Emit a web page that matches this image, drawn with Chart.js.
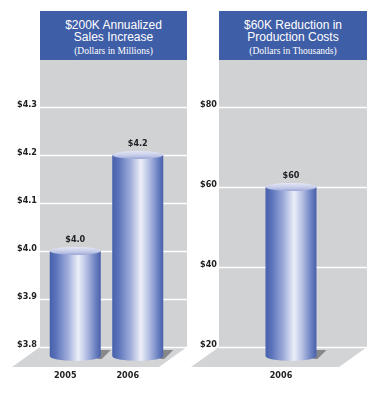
<!DOCTYPE html>
<html><head><meta charset="utf-8">
<script src="https://cdn.jsdelivr.net/npm/chart.js@4"></script>
<style>
html,body{margin:0;padding:0;background:#fff}
body{width:378px;height:401px;overflow:hidden;position:relative}
.cw{position:absolute;top:0;height:401px}
.tb{position:absolute;top:11px;height:49px;background:#3f5ea8;color:#fff;text-align:center}
.l1{position:absolute;left:0;right:0;font-family:'Liberation Sans',Arial,sans-serif;font-size:12px;line-height:12px}
.l3{position:absolute;left:0;right:0;font-family:'Liberation Serif','Times New Roman',serif;font-size:9.5px;line-height:10px}
</style></head>
<body>
<div class="cw" style="left:0;width:190px"><canvas id="c1" width="190" height="401"></canvas></div>
<div class="cw" style="left:190px;width:188px"><canvas id="c2" width="188" height="401"></canvas></div>
<div class="tb" style="left:40px;width:147px">
  <div class="l1" style="top:8px">$200K Annualized</div>
  <div class="l1" style="top:20px">Sales Increase</div>
  <div class="l3" style="top:35px">(Dollars in Millions)</div>
</div>
<div class="tb" style="left:219px;width:148px">
  <div class="l1" style="top:8px">$60K Reduction in</div>
  <div class="l1" style="top:20px">Production Costs</div>
  <div class="l3" style="top:35px">(Dollars in Thousands)</div>
</div>
<script>
const salesCategories = ['2005', '2006'];
const salesValues = [4.0, 4.2];
const salesTicks = [3.8, 3.9, 4.0, 4.1, 4.2, 4.3];

const costCategories = ['2006'];
const costValues = [60];
const costTicks = [20, 40, 60, 80];

const LABEL_FAMILY = "'Liberation Sans Narrow','DejaVu Sans Condensed',sans-serif";
const LABEL_FONT = "bold 9px " + LABEL_FAMILY;

const scenePlugin = {
  id: 'scene',
  beforeDraw(chart, args, opts) {
    const ctx = chart.ctx, a = chart.chartArea, ys = chart.scales.y;
    const L = a.left - opts.extL, R = a.right + opts.extR, T = a.top, B = a.bottom;
    ctx.save();
    ctx.fillStyle = '#d1d2d4';
    ctx.fillRect(L, T, R - L, B - T);
    ctx.fillStyle = '#d3d4d6';
    ctx.beginPath();
    ctx.moveTo(L, B); ctx.lineTo(R, B); ctx.lineTo(R - 28, B + 20); ctx.lineTo(L - 28, B + 20);
    ctx.closePath(); ctx.fill();
    ctx.strokeStyle = '#ffffff'; ctx.lineWidth = 1.5;
    ys.ticks.forEach(t => {
      const py = Math.round(ys.getPixelForValue(t.value)) + 0.5;
      ctx.beginPath(); ctx.moveTo(L, py); ctx.lineTo(R, py); ctx.stroke();
    });
    ctx.restore();
  },
  afterDatasetsDraw(chart, args, opts) {
    const ctx = chart.ctx, ys = chart.scales.y;
    const meta = chart.getDatasetMeta(0);
    const data = chart.data.datasets[0].data;
    const base = ys.getPixelForValue(ys.min);
    meta.data.forEach((el, i) => {
      const p = el.getProps(['x', 'y', 'width'], true);
      const w = p.width, l = p.x - w / 2, r = p.x + w / 2;
      const bot = base + 9;
      ctx.save();
      // shadow on floor
      ctx.fillStyle = 'rgba(110,111,115,0.75)';
      ctx.beginPath();
      ctx.moveTo(r - 3, base + 3); ctx.lineTo(r + 10, base + 3);
      ctx.lineTo(r + 1, bot + 3); ctx.lineTo(r - 3, bot + 3);
      ctx.closePath(); ctx.fill();
      // body
      const g = ctx.createLinearGradient(l, 0, r, 0);
      g.addColorStop(0, '#4760ab');
      g.addColorStop(0.12, '#5a73ba');
      g.addColorStop(0.35, '#9dabd9');
      g.addColorStop(0.56, '#eceff9');
      g.addColorStop(0.72, '#b5bfe3');
      g.addColorStop(0.9, '#6a80c1');
      g.addColorStop(1, '#4960ab');
      ctx.fillStyle = g;
      ctx.fillRect(l, p.y, w, bot - p.y);
      ctx.beginPath();
      ctx.ellipse(p.x, bot, w / 2, 5, 0, 0, Math.PI);
      ctx.fill();
      // top cap
      const tg = ctx.createLinearGradient(0, p.y - 4, 0, p.y + 4);
      tg.addColorStop(0, '#e4e7f5');
      tg.addColorStop(0.6, '#c3cae8');
      tg.addColorStop(1, '#9aa6d6');
      ctx.fillStyle = tg;
      ctx.beginPath();
      ctx.ellipse(p.x, p.y, w / 2, 4, 0, 0, Math.PI * 2);
      ctx.fill();
      // value label
      ctx.fillStyle = '#222';
      ctx.font = LABEL_FONT;
      ctx.textAlign = 'center';
      ctx.textBaseline = 'middle';
      ctx.fillText('$' + opts.fmt(data[i]), p.x, p.y - 11);
      ctx.restore();
    });
  }
};

function makeChart(id, cats, vals, ticks, min, max, fmt, yWidth, yPad, padRight, extL, extR) {
  return new Chart(document.getElementById(id), {
    type: 'bar',
    data: { labels: cats, datasets: [{ data: vals, backgroundColor: 'rgba(0,0,0,0)', borderWidth: 0, barThickness: 51 }] },
    plugins: [scenePlugin],
    options: {
      responsive: false, animation: false,
      layout: { padding: { top: 59, right: padRight, left: 0, bottom: 0 } },
      plugins: { legend: { display: false }, tooltip: { enabled: false }, title: { display: false },
        scene: { fmt: fmt, extL: extL, extR: extR } },
      scales: {
        x: {
          grid: { display: false, drawTicks: false }, border: { display: false },
          ticks: { color: '#222', font: { family: LABEL_FAMILY, size: 9, weight: 'bold' }, padding: 23, labelOffset: -10 },
          afterFit(s) { s.height = 54; }
        },
        y: {
          min: min, max: max,
          grid: { display: false, drawTicks: false }, border: { display: false },
          afterBuildTicks(s) { s.ticks = ticks.map(v => ({ value: v })); },
          ticks: { color: '#222', font: { family: LABEL_FAMILY, size: 9, weight: 'bold' }, padding: yPad, labelOffset: -2,
            callback: v => '$' + fmt(v) },
          afterFit(s) { s.width = yWidth; }
        }
      }
    }
  });
}

makeChart('c1', salesCategories, salesValues, salesTicks, 3.8, 4.4, v => Number(v).toFixed(1), 44, 7, 21, 4, 18);
makeChart('c2', costCategories, costValues, costTicks, 20, 92, v => Number(v).toFixed(0), 29, 2, 15, 0, 4);
</script>
</body></html>
